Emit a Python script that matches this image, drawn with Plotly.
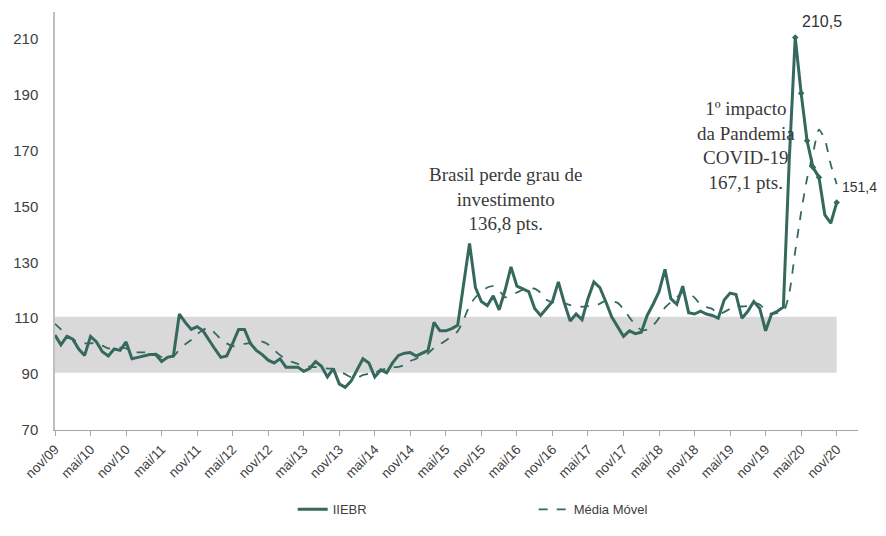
import plotly.graph_objects as go

# ---- data ----
nomes_mes = ["jan", "fev", "mar", "abr", "mai", "jun", "jul", "ago", "set", "out", "nov", "dez"]
meses = []
for ano in range(2009, 2021):
    for m, nome in enumerate(nomes_mes):
        if (ano == 2009 and m < 10):
            continue
        meses.append(f"{nome}/{str(ano)[2:]}")
meses = meses[:133]

iiebr = [104, 100.5, 103.5, 102.5, 99, 96.7, 103.5, 101.5, 98, 96.5,
         99, 98.5, 101.5, 95.5, 96, 96.5, 97, 97, 94.5, 96,
         96.5, 111.5, 108.5, 106, 107, 105.5, 102, 99, 96, 96.5,
         101, 106, 106, 101, 98.5, 97, 95, 94, 95.5, 92.5,
         92.5, 92.5, 91, 92, 94.5, 92.8, 89, 92, 86.5, 85.3,
         87.5, 91.5, 95.5, 94, 89, 91.5, 90.5, 94, 96.7, 97.5,
         97.7, 96.5, 97.5, 98.5, 108.5, 105.5, 105.5, 106.3, 107.5, 122,
         136.8, 121, 116, 114.5, 118, 113, 120, 128.4, 121.5, 120.5,
         119.5, 113.5, 111, 113.5, 116, 123, 115.5, 109, 111.5, 109.5,
         117, 123, 121, 116, 110.5, 107, 103.5, 105.5, 104.5, 105,
         111, 115, 119.5, 127.5, 117, 115, 121.5, 112, 111.5, 112.5,
         111.5, 111, 110, 116.5, 119, 118.5, 110, 112.5, 116, 113.5,
         105.5, 111.5, 112.5, 114, 167.1, 210.5, 190.5, 173.5, 164, 160.5,
         147, 144, 151.4]

media_movel = [108, 106, 104, 102.5, 101.5, 101, 101, 101.1, 100.2, 99.2,
               99.2, 99.5, 99.2, 98.2, 97.8, 97.8, 97.5, 97.3, 96.1, 96.2,
               96.3, 98.8, 100.7, 102.2, 104.3, 105.8, 106.7, 104.7, 102.6, 101,
               100, 100.1, 100.8, 101.1, 101.5, 101.6, 100.6, 98.6, 96.8, 95.4,
               94.4, 93.7, 93, 92.7, 92.5, 92.6, 92, 91.9, 91.1, 90,
               88.9, 88.6, 89.7, 90.1, 90.5, 91.5, 92, 92.4, 92.6, 93.2,
               94.7, 95.5, 96.7, 97.4, 99.4, 100.7, 102, 103.6, 105.3, 109.5,
               114.5, 117.5, 119.5, 121, 121.5, 120, 117.5, 118.5, 119.2, 120.2,
               120.5, 120.6, 119.1, 116.6, 115.7, 116.1, 115.4, 114.7, 114.8, 114.1,
               114.3, 114.3, 115.2, 116.3, 116.1, 115.5, 113.3, 110.3, 107.6, 105.8,
               105.9, 107.4, 110.1, 113.8, 115.8, 117.5, 119.3, 118.8, 117.4, 114.9,
               114, 113.3, 111.4, 112.2, 113.4, 114.4, 114.2, 114.4, 115.4, 114.9,
               112.7, 111.5, 111.9, 112.2, 119, 134, 148, 160, 169, 177.5,
               174, 165, 158]

destaques = [125, 126, 127, 128, 129, 132]   # indices with markers
rotulos_x = ["nov/09", "mai/10", "nov/10", "mai/11", "nov/11", "mai/12", "nov/12",
             "mai/13", "nov/13", "mai/14", "nov/14", "mai/15", "nov/15", "mai/16",
             "nov/16", "mai/17", "nov/17", "mai/18", "nov/18", "mai/19", "nov/19",
             "mai/20", "nov/20"]
y_ticks = [70, 90, 110, 130, 150, 170, 190, 210]
faixa = [90.5, 110.5]

cor = "#35695d"

fig = go.Figure()
fig.add_shape(type="rect", xref="x", yref="y", x0=meses[0], x1=meses[-1],
              y0=faixa[0], y1=faixa[1], fillcolor="#d9d9d9", line=dict(width=0),
              layer="below")

fig.add_trace(go.Scatter(x=meses, y=iiebr, mode="lines", name="IIEBR",
                         line=dict(color=cor, width=3)))
fig.add_trace(go.Scatter(x=meses, y=media_movel, mode="lines", name="Média Móvel",
                         line=dict(color=cor, width=1.8, dash="dash", shape="spline",
                                   smoothing=0.6)))
fig.add_trace(go.Scatter(x=[meses[i] for i in destaques], y=[iiebr[i] for i in destaques],
                         mode="markers", showlegend=False,
                         marker=dict(color=cor, size=5, symbol="diamond")))

serif = "Liberation Serif"
fig.add_annotation(x=meses[72], y=136.8, xref="x", yref="y",
                   text="Brasil perde grau de<br>investimento<br>136,8 pts.",
                   showarrow=False, yshift=44, xshift=25,
                   font=dict(family=serif, size=19, color="#3a3a3a"))
fig.add_annotation(x=meses[119], y=167.1, xref="x", yref="y",
                   text="1º impacto<br>da Pandemia<br>COVID-19<br>167,1 pts.",
                   showarrow=False, yshift=13, xshift=-14,
                   font=dict(family=serif, size=19, color="#3a3a3a"))
fig.add_annotation(x=meses[125], y=210.5, xref="x", yref="y", text="210,5",
                   showarrow=False, xanchor="left", xshift=5, yshift=16,
                   font=dict(family="Liberation Sans", size=16, color="#333333"))
fig.add_annotation(x=meses[132], y=151.4, xref="x", yref="y", text="151,4",
                   showarrow=False, xanchor="left", xshift=3, yshift=16,
                   font=dict(family="Liberation Sans", size=14, color="#333333"))

# page body has an 8px margin: figure is offset by 8px
fig.update_layout(
    width=870, height=520,
    margin=dict(l=47, r=20, t=4, b=96),
    plot_bgcolor="white", paper_bgcolor="white",
    font=dict(family="Liberation Sans", size=13, color="#404040"),
    showlegend=True,
    legend=dict(orientation="h", x=0.296, xanchor="left", y=-0.19, yanchor="middle",
                entrywidth=196, entrywidthmode="pixels",
                font=dict(size=13, color="#404040")),
)
fig.update_xaxes(type="category", categoryorder="array", categoryarray=meses,
                 range=[0, 135.6], tickmode="array", tickvals=rotulos_x, ticktext=rotulos_x,
                 tickangle=-45, ticks="outside", ticklen=5, tickcolor="#a6a6a6",
                 showline=True, linecolor="#a6a6a6", linewidth=1.2, automargin=False,
                 showgrid=False, zeroline=False, tickfont=dict(size=13.5, color="#404040"))
fig.update_yaxes(range=[70, 219.6], tickvals=y_ticks, showline=True, linecolor="#bfbfbf",
                 linewidth=1.5, showgrid=False, zeroline=False, ticks="", automargin=False,
                 ticklabelstandoff=12, tickfont=dict(size=15, color="#404040"))

fig.write_html("out.html")
